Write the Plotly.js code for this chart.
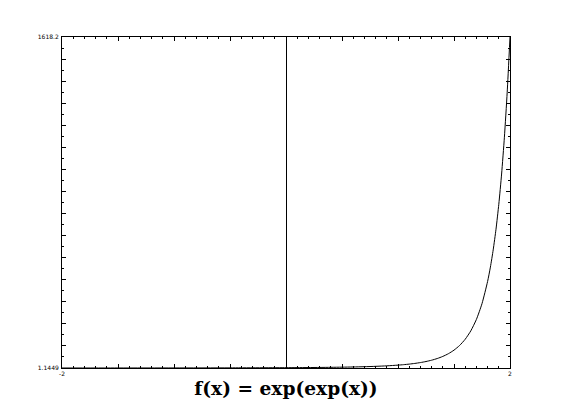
<!DOCTYPE html>
<html>
<head>
<meta charset="utf-8">
<script src="https://cdn.plot.ly/plotly-3.0.1.min.js"></script>
<style>html,body{margin:0;padding:0;background:#fff;}#chart{width:585px;height:413px;}</style>
</head>
<body>
<div id="chart"></div>
<script>
// Sampled points of f(x) = exp(exp(x)), read/derived from the reference curve
const xValues = [-2, -1.5, -1, -0.5, 0, 0.1, 0.2, 0.3, 0.4, 0.5, 0.6, 0.7, 0.8, 0.9, 1.0,
  1.05, 1.1, 1.15, 1.2, 1.25, 1.3, 1.35, 1.4, 1.45, 1.5, 1.55, 1.6, 1.65, 1.7, 1.75,
  1.8, 1.825, 1.85, 1.875, 1.9, 1.925, 1.95, 1.975, 2];
const yValues = [1.1449, 1.2500, 1.4447, 1.8341, 2.7183, 3.0197, 3.3919, 3.8568, 4.4451, 5.2006, 6.1850, 7.4914, 9.2586, 11.700, 15.154,
  17.421, 20.169, 23.528, 27.663, 32.797, 39.224, 47.343, 57.697, 71.031, 88.384, 111.22, 141.60, 182.54, 238.40, 315.64,
  423.96, 494.13, 578.14, 679.14, 801.03, 948.75, 1128.55, 1348.34, 1618.18];
const xRange = [-2, 2];
const yRange = [1.1449, 1618.2];
const xTickLabels = ["-2", "2"];
const yTickLabels = ["1.1449", "1618.2"];
const chartTitle = "f(x) = exp(exp(x))";

// tick positions (styling) derived from axis ranges
const xTickVals = [], xTickText = [];
for (let i = 0; i <= 8; i++) {
  xTickVals.push(xRange[0] + i * (xRange[1] - xRange[0]) / 8);
  xTickText.push(i === 0 ? xTickLabels[0] : (i === 8 ? xTickLabels[1] : ""));
}
const yTickVals = [], yTickText = [];
for (let i = 0; i <= 15; i++) {
  yTickVals.push(yRange[0] + i * (yRange[1] - yRange[0]) / 15);
  yTickText.push(i === 0 ? yTickLabels[0] : (i === 15 ? yTickLabels[1] : ""));
}

const trace = {
  x: xValues, y: yValues, type: "scatter", mode: "lines",
  line: {color: "#000", width: 1, shape: "spline", smoothing: 0.6},
  hoverinfo: "skip"
};

const layout = {
  width: 585, height: 413,
  margin: {l: 62, r: 75, t: 37, b: 45, pad: 0},
  paper_bgcolor: "#fff", plot_bgcolor: "#fff",
  showlegend: false,
  font: {family: "DejaVu Sans, sans-serif", size: 6, color: "#000"},
  title: {
    text: chartTitle,
    font: {family: "DejaVu Serif, serif", size: 18.6, color: "#000", weight: "bold"},
    x: 0.5, xanchor: "center", xref: "paper",
    y: 0.06, yanchor: "middle", yref: "container"
  },
  xaxis: {
    range: xRange, tickmode: "array", tickvals: xTickVals, ticktext: xTickText,
    ticks: "inside", ticklen: 4, tickwidth: 1, tickcolor: "#000",
    showline: true, linecolor: "#000", linewidth: 1, mirror: "ticks",
    showgrid: false, zeroline: true, zerolinecolor: "#000", zerolinewidth: 1,
    tickfont: {size: 6, family: "DejaVu Sans, sans-serif", color: "#000"},
    ticklabelstandoff: 0,
    minor: {dtick: 0.1, tick0: -2, ticks: "inside", ticklen: 2, tickcolor: "#000", showgrid: false},
    fixedrange: true
  },
  yaxis: {
    range: yRange, tickmode: "array", tickvals: yTickVals, ticktext: yTickText,
    ticks: "inside", ticklen: 4, tickwidth: 1, tickcolor: "#000",
    showline: true, linecolor: "#000", linewidth: 1, mirror: "ticks",
    showgrid: false, zeroline: false,
    tickfont: {size: 6, family: "DejaVu Sans, sans-serif", color: "#000"},
    ticklabelstandoff: 1,
    minor: {dtick: (yRange[1] - yRange[0]) / 30, tick0: yRange[0], ticks: "inside", ticklen: 2, tickcolor: "#000", showgrid: false},
    fixedrange: true
  }
};

Plotly.newPlot("chart", [trace], layout, {staticPlot: true, displayModeBar: false});
</script>
</body>
</html>
